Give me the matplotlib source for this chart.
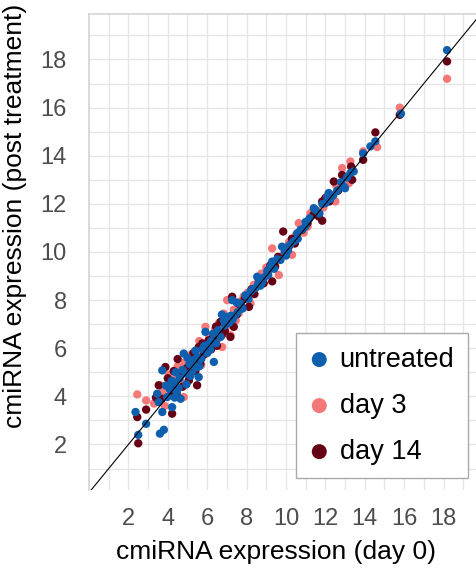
import numpy as np
import matplotlib
matplotlib.use("Agg")
import matplotlib.pyplot as plt

plt.rcParams['font.family'] = ['Liberation Sans', 'DejaVu Sans']

# untreated (blue)
untreated_x = [2.36, 2.50, 2.90, 3.60, 3.80, 3.46, 3.54, 3.72, 3.72, 3.97,
               4.22, 4.10, 4.30, 4.45, 4.65, 4.81, 4.60, 4.90, 5.10, 4.95,
               5.25, 5.49, 5.57, 5.40, 5.70, 5.85, 6.00, 6.34, 5.91, 6.20,
               6.45, 6.68, 6.84, 6.90, 7.00, 7.10, 7.27, 7.40, 7.55, 7.70,
               7.94, 8.10, 8.30, 8.54, 8.70, 8.90, 9.05, 9.21, 9.40, 9.55,
               9.72, 9.80, 10.00, 10.20, 10.40, 10.57, 10.74, 10.99, 11.20, 11.41,
               11.50, 11.70, 12.00, 12.10, 12.17, 12.40, 12.60, 12.94, 13.00, 13.10,
               13.27, 13.44, 13.92, 14.29, 14.54, 15.84, 18.18,
               4.20, 4.40, 4.55, 4.75, 5.00, 5.15, 5.30, 5.60, 5.75, 6.05,
               6.30, 6.55, 6.75, 6.95, 7.15, 7.30, 7.50, 7.80, 8.20, 8.45,
               8.80, 9.10, 9.30, 10.10, 10.60, 11.00, 12.25, 12.80, 3.90, 4.35,
               5.45, 6.15, 7.05, 7.20, 8.60, 9.95, 10.85, 11.85]
untreated_y = [3.35, 2.40, 2.86, 2.45, 2.61, 4.11, 3.76, 3.35, 5.08, 3.97,
               3.55, 4.30, 4.55, 4.20, 3.90, 5.78, 4.75, 4.95, 5.35, 4.50,
               5.05, 5.64, 4.80, 5.90, 5.55, 6.10, 5.80, 5.43, 6.68, 6.30,
               6.20, 6.47, 7.17, 6.95, 7.30, 7.05, 8.00, 7.35, 7.50, 7.85,
               8.20, 8.05, 8.45, 8.97, 8.60, 8.95, 9.20, 9.39, 9.30, 9.70,
               9.67, 10.22, 9.85, 10.30, 10.45, 10.78, 10.92, 11.07, 11.40, 11.82,
               11.75, 11.60, 12.03, 12.30, 12.45, 12.35, 12.55, 12.72, 12.65, 13.10,
               13.28, 13.35, 14.10, 14.39, 14.60, 15.75, 18.39,
               4.65, 5.00, 4.35, 5.10, 5.60, 4.85, 5.50, 5.25, 5.95, 6.15,
               6.60, 6.75, 7.40, 7.25, 7.10, 7.20, 7.90, 7.65, 8.35, 8.50,
               8.75, 9.05, 9.60, 10.05, 10.55, 11.25, 12.20, 12.90, 4.45, 3.95,
               5.20, 5.95, 7.15, 7.35, 8.70, 10.00, 10.95, 12.00]

# day 3 (salmon)
day3_x = [2.45, 2.90, 3.46, 3.65, 3.85, 4.05, 4.25, 4.81, 4.50, 4.70,
          4.85, 5.07, 5.20, 5.35, 5.55, 5.70, 5.91, 6.00, 6.25, 6.40,
          6.76, 6.84, 7.01, 7.18, 7.35, 7.60, 7.85, 8.20, 8.37, 8.60,
          8.85, 9.00, 9.30, 9.64, 9.90, 10.31, 10.50, 10.65, 10.90, 11.24,
          11.60, 11.90, 12.51, 12.56, 13.20, 13.27, 12.85, 13.92, 14.63, 15.78,
          18.18,
          4.15, 4.40, 4.95, 5.25, 5.50, 5.80, 6.10, 6.55, 6.95, 7.45,
          7.70, 8.05, 8.75, 9.45, 10.15, 11.10, 12.20, 3.30, 3.75, 5.60,
          6.60]
day3_y = [4.08, 3.83, 4.05, 4.45, 3.60, 4.90, 4.15, 3.97, 5.25, 4.55,
          5.40, 4.67, 5.75, 5.05, 5.95, 5.30, 6.89, 6.25, 6.05, 6.80,
          6.05, 7.44, 8.00, 6.54, 7.60, 7.45, 8.15, 7.86, 8.63, 8.85,
          8.70, 9.35, 10.15, 9.04, 9.95, 9.88, 10.70, 11.20, 10.80, 11.61,
          11.68, 11.85, 12.10, 12.75, 12.86, 13.76, 13.49, 14.18, 14.36, 16.00,
          17.20,
          4.40, 4.70, 5.05, 5.45, 5.60, 5.70, 6.50, 6.40, 6.85, 7.15,
          7.95, 8.30, 9.10, 9.55, 10.40, 11.05, 12.40, 3.70, 4.20, 6.30,
          7.05]

# day 14 (dark red)
day14_x = [2.45, 2.50, 2.90, 3.54, 3.88, 4.22, 4.00, 4.15, 4.35, 4.65,
           4.50, 4.75, 5.00, 5.07, 5.49, 5.57, 5.30, 5.65, 5.85, 6.08,
           6.30, 6.50, 6.68, 6.90, 7.18, 7.27, 7.35, 7.50, 7.75, 8.12,
           8.40, 8.65, 8.87, 9.10, 9.30, 9.21, 9.60, 9.86, 10.14, 10.45,
           10.82, 11.10, 11.67, 11.84, 11.84, 12.00, 12.43, 12.85, 13.31, 13.36,
           13.92, 14.54, 15.78, 18.18,
           3.70, 4.45, 4.85, 5.15, 5.40, 5.75, 6.20, 6.45, 7.05, 7.60,
           7.90, 8.25, 9.45, 10.30, 11.40, 12.20, 12.65, 3.40, 4.30, 6.75]
day14_y = [3.14, 2.05, 3.45, 4.46, 5.22, 3.28, 4.75, 4.05, 4.50, 4.95,
           5.55, 4.40, 5.20, 4.67, 4.46, 6.05, 5.80, 5.35, 5.75, 6.33,
           6.45, 6.10, 7.10, 6.70, 6.47, 8.14, 6.89, 7.40, 7.70, 7.72,
           8.25, 8.80, 8.70, 9.25, 8.78, 9.45, 9.80, 10.85, 10.22, 10.35,
           10.92, 11.20, 11.47, 11.30, 12.10, 12.24, 12.93, 13.20, 13.55, 13.00,
           13.83, 14.97, 15.70, 17.92,
           3.90, 4.10, 5.10, 5.50, 5.05, 6.20, 5.95, 6.90, 7.25, 7.85,
           8.05, 8.45, 9.40, 10.55, 11.55, 12.10, 12.55, 3.95, 5.05, 6.55]

ticks = [2, 4, 6, 8, 10, 12, 14, 16, 18]

c_untreated = '#0F5FAF'
c_day3 = '#F57878'
c_day14 = '#660014'

fig = plt.figure(figsize=(4.76, 5.74), dpi=100)
ax = fig.add_axes([0.187, 0.146, 0.813, 0.83])

ax.scatter(day3_x, day3_y, s=36, color=c_day3, edgecolors='none', zorder=3, label='day 3')
ax.scatter(day14_x, day14_y, s=36, color=c_day14, edgecolors='none', zorder=3, label='day 14')
ax.scatter(untreated_x, untreated_y, s=36, color=c_untreated, edgecolors='none', zorder=4, label='untreated')
ax.axline((0, 0), slope=1, color='black', lw=0.8, zorder=5)

ax.set_xlim(0, 19.65)
ax.set_ylim(0.1, 19.9)
ax.set_xticks(ticks)
ax.set_yticks(ticks)
ax.set_xticks(np.arange(1, 20), minor=True)
ax.set_yticks(np.arange(1, 20), minor=True)
ax.grid(True, which='both', color='#e6e6e6', lw=1.0, zorder=0)
ax.set_axisbelow(True)
ax.tick_params(which='both', length=0)
ax.tick_params(axis='x', labelsize=17, labelcolor='#4d4d4d', pad=13)
ax.tick_params(axis='y', labelsize=17, labelcolor='#4d4d4d', pad=16)

for s in ['right', 'bottom']:
    ax.spines[s].set_visible(False)
for s in ['left', 'top']:
    ax.spines[s].set_color('#d4d4d4')
    ax.spines[s].set_linewidth(1.2)

ax.set_xlabel('cmiRNA expression (day 0)', fontsize=19)
ax.set_ylabel('cmiRNA expression (post treatment)', fontsize=19)
ax.xaxis.set_label_coords(0.484, -0.105)
ax.yaxis.set_label_coords(-0.16, 0.576)

handles, labels = ax.get_legend_handles_labels()
order = [2, 0, 1]
leg = ax.legend([handles[i] for i in order], [labels[i] for i in order],
                loc='lower right', bbox_to_anchor=(0.979, 0.025), borderaxespad=0,
                fontsize=19.5, markerscale=1.8, fancybox=False, framealpha=1,
                edgecolor='#aaaaaa', handletextpad=0.4, labelspacing=0.74,
                borderpad=0.5, handlelength=0.7)
leg.get_frame().set_linewidth(1.0)

fig.savefig('out.png', dpi=100)
